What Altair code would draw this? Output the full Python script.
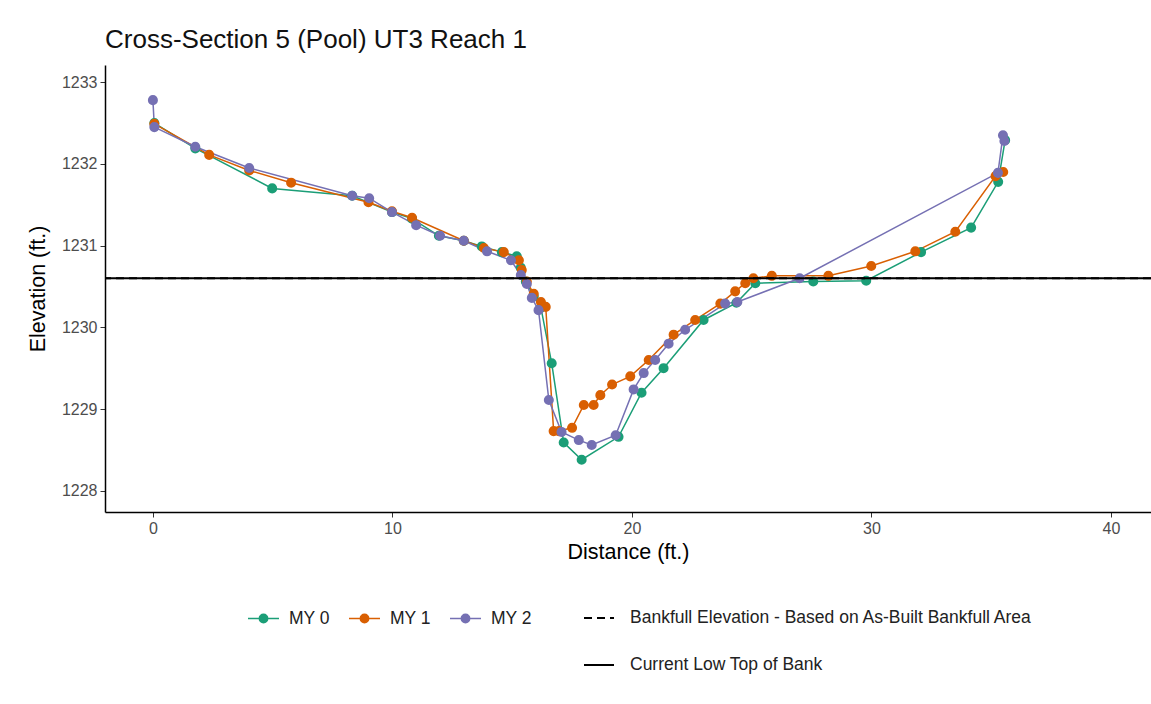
import altair as alt
import pandas as pd

# ---- data ----
my0_x = [0.06, 1.77, 4.98, 8.32, 9.98, 10.82, 11.94, 12.98, 13.73, 14.57, 15.19, 15.36, 15.57, 15.9, 16.2,
         16.65, 17.15, 17.9, 19.44, 20.4, 21.32, 22.99, 24.36, 25.15, 27.57, 29.78, 32.07, 34.16, 35.29, 35.58]
my0_y = [1232.50, 1232.19, 1231.70, 1231.61, 1231.41, 1231.33, 1231.12, 1231.06, 1230.99, 1230.92, 1230.87,
         1230.73, 1230.56, 1230.38, 1230.24, 1229.56, 1228.59, 1228.38, 1228.66, 1229.20, 1229.50, 1230.09,
         1230.30, 1230.54, 1230.56, 1230.57, 1230.92, 1231.22, 1231.78, 1232.29]

my1_x = [0.06, 2.35, 4.02, 5.77, 9.0, 9.98, 10.82, 12.98, 13.82, 14.65, 15.28, 15.4, 15.61, 15.9, 16.2, 16.4,
         16.73, 16.95, 17.5, 17.99, 18.4, 18.68, 19.17, 19.93, 20.7, 21.74, 22.64, 23.69, 24.31, 24.73, 25.07,
         25.84, 28.2, 29.99, 31.83, 33.5, 35.18, 35.5]
my1_y = [1232.49, 1232.11, 1231.92, 1231.77, 1231.53, 1231.42, 1231.34, 1231.06, 1230.97, 1230.92, 1230.82,
         1230.70, 1230.56, 1230.41, 1230.31, 1230.25, 1228.73, 1228.73, 1228.77, 1229.05, 1229.05, 1229.17,
         1229.30, 1229.40, 1229.60, 1229.91, 1230.09, 1230.29, 1230.44, 1230.54, 1230.60, 1230.63, 1230.63,
         1230.75, 1230.93, 1231.17, 1231.85, 1231.90]

my2_x = [0.0, 0.06, 1.77, 4.02, 8.32, 9.03, 9.98, 10.99, 11.99, 12.98, 13.95, 14.95, 15.36, 15.61, 15.82, 16.1,
         16.53, 17.06, 17.78, 18.32, 19.32, 20.07, 20.49, 20.97, 21.53, 22.22, 23.89, 24.4, 27.0, 35.28, 35.49, 35.55]
my2_y = [1232.78, 1232.45, 1232.21, 1231.95, 1231.61, 1231.58, 1231.41, 1231.25, 1231.12, 1231.06, 1230.93,
         1230.82, 1230.64, 1230.53, 1230.36, 1230.21, 1229.11, 1228.72, 1228.62, 1228.56, 1228.68, 1229.24,
         1229.44, 1229.60, 1229.80, 1229.97, 1230.29, 1230.31, 1230.60, 1231.89, 1232.35, 1232.28]

series_names = ["MY 0", "MY 1", "MY 2"]
series_colors = ["#1b9e77", "#d95f02", "#7570b3"]

ref_names = ["Current Low Top of Bank", "Bankfull Elevation - Based on As-Built Bankfull Area"]
ref_elev = [1230.6, 1230.6]
legend_order = ["Bankfull Elevation - Based on As-Built Bankfull Area", "Current Low Top of Bank"]

x_ticks = [0, 10, 20, 30, 40]
y_ticks = [1228, 1229, 1230, 1231, 1232, 1233]

rows = []
for name, xs, ys in zip(series_names, [my0_x, my1_x, my2_x], [my0_y, my1_y, my2_y]):
    for i, (xv, yv) in enumerate(zip(xs, ys)):
        rows.append({"series": name, "idx": i, "dist": xv, "elev": yv})
df = pd.DataFrame(rows)
ref_df = pd.DataFrame({"kind": ref_names, "elev": ref_elev})

FONT = "Liberation Sans"

xscale = alt.Scale(domain=[-2.0, 41.67], nice=False, zero=False)
yscale = alt.Scale(domain=[1227.74, 1233.21], nice=False, zero=False)
cscale = alt.Scale(domain=series_names, range=series_colors)

sym_path = ("M-1,0L1,0M-0.27,0A0.27,0.27,0,1,1,0.27,0A0.27,0.27,0,1,1,-0.27,0Z")
series_legend = alt.Legend(
    title=None, orient="none", legendX=142, legendY=537, direction="horizontal",
    symbolType=sym_path, symbolSize=961, symbolStrokeWidth=1.5,
    labelFontSize=17.5, labelFont=FONT, labelColor="#222222", labelOffset=9,
    columnPadding=16, padding=0,
)

xenc = alt.X("dist:Q", scale=xscale,
             axis=alt.Axis(title="Distance (ft.)", values=x_ticks, format="d"))
yenc = alt.Y("elev:Q", scale=yscale,
             axis=alt.Axis(title="Elevation (ft.)", values=y_ticks, format="d"))

lines = alt.Chart(df).mark_line(strokeWidth=1.5).encode(
    x=xenc, y=yenc,
    stroke=alt.Stroke("series:N", scale=cscale, legend=series_legend),
    order=alt.Order("idx:Q"),
    detail="series:N",
)
points = alt.Chart(df).mark_point(filled=True, size=65, opacity=1).encode(
    x="dist:Q", y="elev:Q",
    fill=alt.Fill("series:N", scale=cscale, legend=series_legend),
    stroke=alt.Stroke("series:N", scale=cscale, legend=series_legend),
)

rules = alt.Chart(ref_df).mark_rule(color="black", strokeWidth=2).encode(
    y=alt.Y("elev:Q"),
    strokeDash=alt.StrokeDash(
        "kind:N",
        scale=alt.Scale(domain=legend_order, range=[[8, 5], [1, 0]]),
        legend=alt.Legend(
            title=None, orient="none", legendX=478, legendY=537, direction="vertical",
            symbolType="stroke", symbolSize=900, symbolStrokeColor="black", symbolStrokeWidth=2,
            labelFontSize=17.5, labelFont=FONT, labelColor="#222222", labelOffset=15,
            rowPadding=22, padding=0, labelLimit=700,
        ),
    ),
)

chart = alt.layer(lines, points, rules).resolve_scale(stroke="shared").properties(
    width=1046, height=447,
    title=alt.TitleParams("Cross-Section 5 (Pool) UT3 Reach 1", anchor="start", frame="group", font=FONT,
                          fontSize=26, fontWeight="normal", color="#111111", offset=12),
    autosize=alt.AutoSizeParams(type="none"),
    padding={"left": 105, "top": 65, "right": 0, "bottom": 192},
    background="white",
).configure_view(stroke=None).configure_axis(
    grid=False, domainColor="black", domainWidth=1.5, tickColor="#333333", tickSize=5,
    labelColor="#4d4d4d", labelFontSize=16, labelFont=FONT, labelPadding=3,
    titleFont=FONT, titleFontSize=21.5, titleFontWeight="normal", titleColor="black",
).configure_axisY(titlePadding=12).configure_axisX(titlePadding=5)

chart.save("out.html", embed_options={"renderer": "svg", "actions": False})
